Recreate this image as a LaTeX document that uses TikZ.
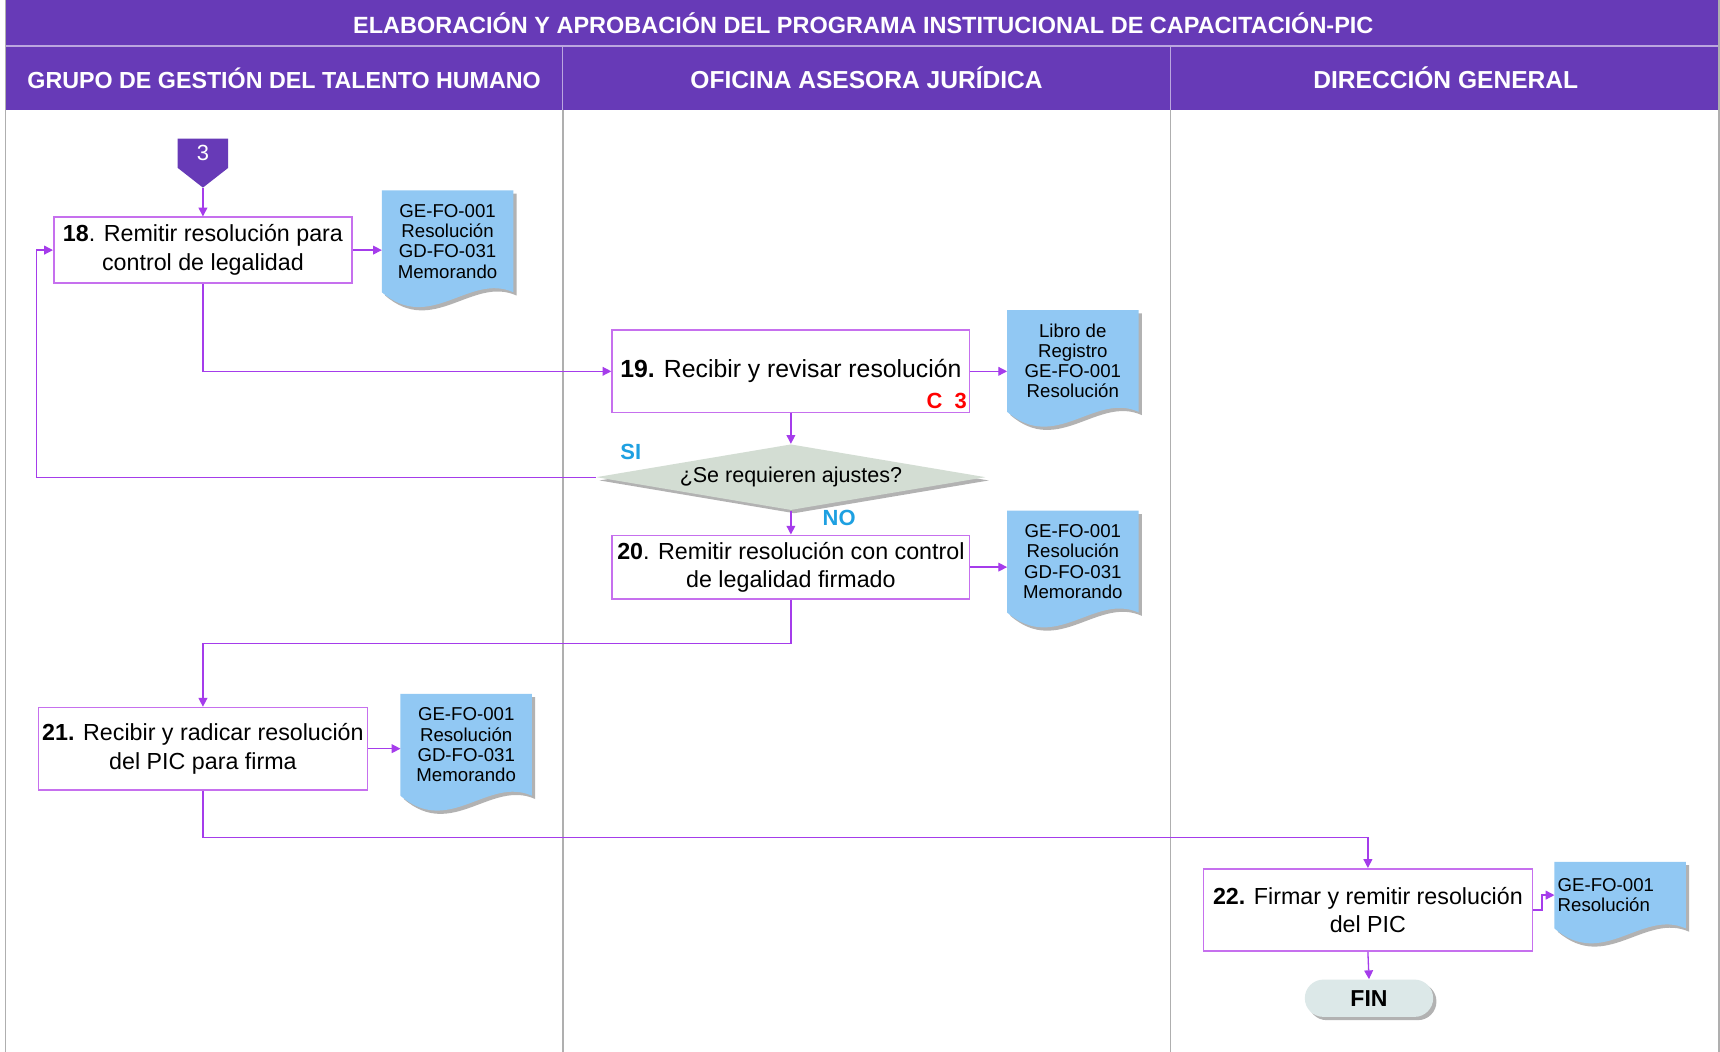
\documentclass[tikz,border=0pt]{standalone}
\usepackage{fontspec}
\setmainfont{Liberation Sans}
\usetikzlibrary{shapes.geometric,shapes.symbols,shapes.misc,shadows,backgrounds,arrows.meta,calc}

\definecolor{lanepurple}{RGB}{103,58,183}
\definecolor{flowline}{RGB}{165,60,235}
\definecolor{boxline}{RGB}{198,112,238}
\definecolor{docblue}{RGB}{145,200,243}
\definecolor{decgray}{RGB}{211,221,211}
\definecolor{fingray}{RGB}{220,232,232}
\definecolor{siblue}{RGB}{30,160,225}
\definecolor{lanegray}{RGB}{175,175,175}

\tikzset{
  flow/.style={draw=flowline, line width=0.6pt, -{Triangle[length=4pt,width=4pt]}},
  act/.style={draw=boxline, line width=0.7pt, fill=white, align=center, inner sep=1pt,
    font=\fontsize{10.6}{13}\selectfont},
  doc/.style={minimum width=59.5pt, minimum height=46pt, align=center, inner sep=0pt,
    font=\fontsize{8.5}{9.2}\selectfont},
  lanehead/.style={text=white, font=\fontsize{11.2}{12}\selectfont\bfseries},
  answer/.style={text=siblue, font=\fontsize{10}{12}\selectfont\bfseries},
  shade/.style={drop shadow={shadow xshift=1.5pt, shadow yshift=-1.5pt, fill=black!50, opacity=.6}}
}

\newcommand{\docback}[1]{%
  \begin{pgfonlayer}{background}
    \fill[docblue, shade] (#1.north west) -- (#1.north east) -- (#1.south east)
      .. controls +(-20pt,9pt) and +(22pt,-19pt) .. (#1.south west) -- cycle;
  \end{pgfonlayer}}

\begin{document}
\begin{tikzpicture}[x=0.5pt, y=-0.5pt]
  \useasboundingbox (0,0) rectangle (1568,959);
  \begin{pgfonlayer}{background}
    \fill[white] (0,0) rectangle (1568,959);
  \end{pgfonlayer}

  \fill[lanepurple] (5,0) rectangle (1568,100);
  \draw[white!55!lanepurple, line width=0.6pt] (5,42) -- (1568,42)
    (513,42) -- (513,100) (1067,42) -- (1067,100);
  \draw[lanegray, line width=0.8pt] (5,0) -- (5,959) (1567,0) -- (1567,959)
    (513,100) -- (513,959) (1067,100) -- (1067,959);

  \node[lanehead, font=\fontsize{10.7}{12}\selectfont\bfseries] (title) at (787,21)
    {ELABORACIÓN Y APROBACIÓN DEL PROGRAMA INSTITUCIONAL DE CAPACITACIÓN-PIC};
  \node[lanehead, font=\fontsize{10.6}{12}\selectfont\bfseries] (lane1) at (259,71)
    {GRUPO DE GESTIÓN DEL TALENTO HUMANO};
  \node[lanehead] (lane2) at (790,71) {OFICINA ASESORA JURÍDICA};
  \node[lanehead] (lane3) at (1318,71) {DIRECCIÓN GENERAL};

  \node[signal, signal to=south, signal pointer angle=104, fill=lanepurple, text=white,
    minimum width=23pt, minimum height=15.5pt, inner sep=0pt, anchor=north,
    font=\fontsize{10}{12}\selectfont] (c3) at (185,126) {3};

  \node[act, minimum width=136pt, minimum height=30pt] (b18) at (185,228)
    {\textbf{18}. Remitir resolución para\\control de legalidad};
  \node[doc] (d18) at (408,220) {GE-FO-001\\Resolución\\GD-FO-031\\Memorando};
  \docback{d18}

  \node[act, minimum width=163pt, minimum height=37.5pt, font=\fontsize{11.3}{13}\selectfont]
    (b19) at (721,338.5) {\textbf{19.} Recibir y revisar resolución};
  \node[text=red, font=\fontsize{10}{12}\selectfont\bfseries, anchor=south east, inner sep=0pt]
    (k19) at ($(b19.south east)+(-1.5pt,2pt)$) {C\ \ 3};
  \node[doc] (d19) at (978,329) {Libro de\\Registro\\GE-FO-001\\Resolución};
  \docback{d19}

  \node[diamond, fill=decgray, shade, aspect=5.9, minimum width=177.5pt, minimum height=30pt,
    inner sep=0pt, font=\fontsize{9.8}{12}\selectfont] (q) at (721,435) {¿Se requieren ajustes?};
  \node[answer] (si) at (575,412) {SI};
  \node[answer] (no) at (765,472) {NO};

  \node[act, minimum width=163pt, minimum height=29pt] (b20) at (721,517)
    {\textbf{20}. Remitir resolución con control\\de legalidad firmado};
  \node[doc] (d20) at (978,512) {GE-FO-001\\Resolución\\GD-FO-031\\Memorando};
  \docback{d20}

  \node[act, minimum width=150pt, minimum height=37.5pt] (b21) at (185,682.5)
    {\textbf{21.} Recibir y radicar resolución\\del PIC para firma};
  \node[doc] (d21) at (425,679) {GE-FO-001\\Resolución\\GD-FO-031\\Memorando};
  \docback{d21}

  \node[act, minimum width=150pt, minimum height=37.5pt] (b22) at (1247,829.5)
    {\textbf{22.} Firmar y remitir resolución\\del PIC};
  \node[doc, minimum height=30pt, align=left, text width=57pt] (d22) at (1477,816)
    {GE-FO-001\\Resolución};
  \docback{d22}

  \node[rounded rectangle, fill=fingray, shade, minimum width=58.5pt, minimum height=17pt,
    inner sep=0pt, font=\fontsize{10.5}{12}\selectfont\bfseries] (fin) at (1248,910) {FIN};

  \coordinate (ret) at (33,0);
  \draw[flow] (c3.south) -- (b18.north);
  \draw[flow] (b18.east) -- (b18.east -| d18.west);
  \draw[flow] (b18.south) |- (b19.west);
  \draw[flow] (b19.east) -- (b19.east -| d19.west);
  \draw[flow] (b19.south) -- (q.north);
  \draw[flow] (q.west) -- (q.west -| ret) |- (b18.west);
  \draw[flow] (q.south) -- (b20.north);
  \draw[flow] (b20.east) -- (b20.east -| d20.west);
  \draw[flow] (b20.south) -- ++(0,40) -| (b21.north);
  \draw[flow] (b21.east) -- (b21.east -| d21.west);
  \draw[flow] (b21.south) -- ++(0,43) -| (b22.north);
  \draw[flow] (b22.east) -- ++(8,0) |- (d22.west);
  \draw[flow] (b22.south) -- (fin.north);
\end{tikzpicture}
\end{document}
